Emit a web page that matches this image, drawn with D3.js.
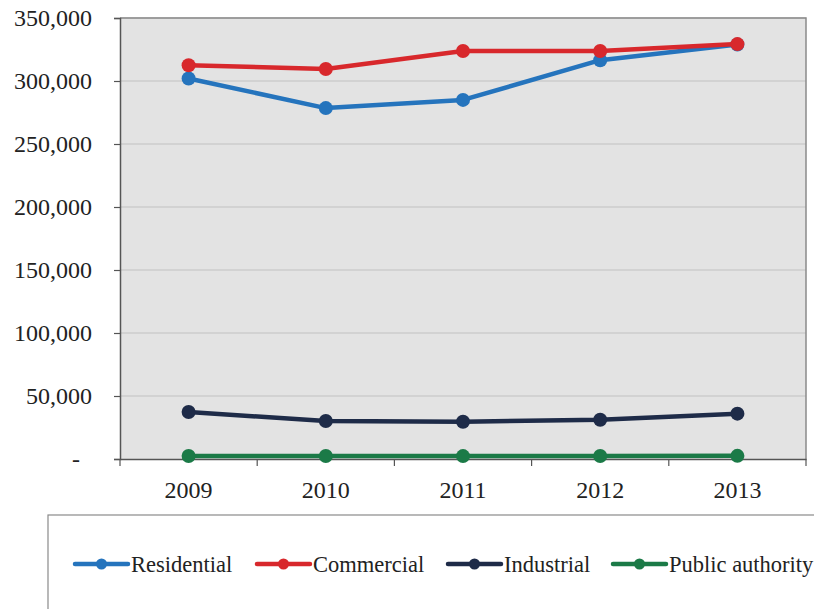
<!DOCTYPE html>
<html>
<head>
<meta charset="utf-8">
<script src="https://cdn.jsdelivr.net/npm/d3@7"></script>
<style>
  html, body { margin: 0; padding: 0; background: #fff; }
  svg { display: block; }
</style>
</head>
<body>
<svg id="chart" width="814" height="609"></svg>
<script>
// Electricity consumption by sector, 2009–2013
const years = ["2009", "2010", "2011", "2012", "2013"];
const seriesNames = ["Residential", "Commercial", "Industrial", "Public authority"];
const residential = [302000, 278500, 285000, 316500, 329000];
const commercial = [312500, 309500, 323800, 323800, 329300];
const industrial = [37300, 30200, 29600, 31200, 36000];
const publicAuthority = [2400, 2400, 2300, 2400, 2500];
const colors = ["#2574bd", "#d8282c", "#1e2b48", "#1b7a47"];
const yTicks = [0, 50000, 100000, 150000, 200000, 250000, 300000, 350000];

const seriesValues = [residential, commercial, industrial, publicAuthority];
const series = seriesNames.map((name, i) => ({ name, color: colors[i], values: seriesValues[i] }));

const svg = d3.select("#chart");
const plot = { left: 120, right: 806, top: 18, bottom: 459 };
const font = "'Liberation Serif', 'Times New Roman', serif";

const x = d3.scaleBand().domain(years).range([plot.left, plot.right]);
const y = d3.scaleLinear().domain([0, 350000]).range([plot.bottom, plot.top]);

// plot background
svg.append("rect")
  .attr("x", plot.left).attr("y", plot.top)
  .attr("width", plot.right - plot.left).attr("height", plot.bottom - plot.top)
  .attr("fill", "#e3e3e3");

// horizontal gridlines
svg.append("g").selectAll("line")
  .data(yTicks.filter(d => d > 0))
  .join("line")
  .attr("x1", plot.left).attr("x2", plot.right)
  .attr("y1", d => y(d)).attr("y2", d => y(d))
  .attr("stroke", "#cdcdcd").attr("stroke-width", 1.5);

// frame on top and right
svg.append("path")
  .attr("d", `M${plot.left},${plot.top}H${plot.right}V${plot.bottom}`)
  .attr("fill", "none").attr("stroke", "#8a8a8a").attr("stroke-width", 1.5);

// y axis
const fmt = d => d === 0 ? "-" : d3.format(",")(d);
const yAxis = svg.append("g")
  .attr("transform", `translate(${plot.left},0)`)
  .call(d3.axisLeft(y).tickValues(yTicks).tickFormat(fmt).tickSize(6).tickPadding(22));
yAxis.select(".domain").attr("stroke", "#555").attr("stroke-width", 1.5);
yAxis.selectAll(".tick line").attr("stroke", "#555").attr("stroke-width", 1.2);
yAxis.selectAll("text")
  .attr("font-family", font).attr("font-size", 24).attr("fill", "#222")
  .attr("dy", "0.32em");
yAxis.selectAll(".tick").filter(d => d === 0).select("text").attr("dx", -12);

// x axis with ticks at category boundaries
const xAxis = svg.append("g")
  .attr("transform", `translate(0,${plot.bottom})`)
  .call(d3.axisBottom(x).tickSize(0).tickPadding(22));
xAxis.select(".domain").attr("stroke", "#555").attr("stroke-width", 1.5);
xAxis.selectAll("text")
  .attr("font-family", font).attr("font-size", 24).attr("fill", "#222");
xAxis.selectAll(".bound")
  .data(years.map(d => x(d)).concat([plot.right]))
  .join("line")
  .attr("class", "bound")
  .attr("x1", d => d).attr("x2", d => d)
  .attr("y1", 0).attr("y2", 7)
  .attr("stroke", "#555").attr("stroke-width", 1.2);

// series lines and markers
const line = d3.line()
  .x((d, i) => x(years[i]) + x.bandwidth() / 2)
  .y(d => y(d));

const g = svg.append("g");
series.forEach(s => {
  g.append("path")
    .attr("d", line(s.values))
    .attr("fill", "none")
    .attr("stroke", s.color)
    .attr("stroke-width", 4.5)
    .attr("stroke-linejoin", "round");
  g.selectAll(null)
    .data(s.values)
    .join("circle")
    .attr("cx", (d, i) => x(years[i]) + x.bandwidth() / 2)
    .attr("cy", d => y(d))
    .attr("r", 7)
    .attr("fill", s.color);
});

// legend
const legend = svg.append("g");
legend.append("rect")
  .attr("x", 48).attr("y", 515)
  .attr("width", 780).attr("height", 120)
  .attr("fill", "#fff").attr("stroke", "#8a8a8a").attr("stroke-width", 1.2);

const legendX = [75, 257, 448, 613];
const ly = 564;
series.forEach((s, i) => {
  const lx = legendX[i];
  legend.append("line")
    .attr("x1", lx).attr("x2", lx + 53)
    .attr("y1", ly).attr("y2", ly)
    .attr("stroke", s.color).attr("stroke-width", 4.5).attr("stroke-linecap", "round");
  legend.append("circle")
    .attr("cx", lx + 26.5).attr("cy", ly).attr("r", 5.5).attr("fill", s.color);
  legend.append("text")
    .attr("x", lx + 56).attr("y", ly)
    .attr("dy", "0.35em")
    .attr("font-family", font).attr("font-size", 22.5).attr("fill", "#222")
    .text(s.name);
});
</script>
</body>
</html>
